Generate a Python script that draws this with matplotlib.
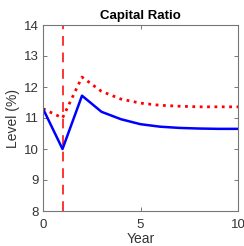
import numpy as np
import matplotlib
matplotlib.use("Agg")
import matplotlib.pyplot as plt

plt.rcParams['font.family'] = ['Liberation Sans', 'DejaVu Sans']

# data
years = [0, 1, 2, 3, 4, 5, 6, 7, 8, 9, 10]
baseline = [11.3, 10.0, 11.72, 11.2, 10.96, 10.8, 10.72, 10.68, 10.66, 10.65, 10.65]
alternative = [11.3, 11.0, 12.32, 11.86, 11.61, 11.48, 11.41, 11.38, 11.36, 11.36, 11.36]
shock_year = 1

fig = plt.figure(figsize=(2.44, 2.46), dpi=100)
ax = fig.add_axes([43 / 244, 1 - 211 / 246, 195 / 244, 186 / 246])

ax.axvline(shock_year, color='#ff3333', linestyle=(0, (5, 3.5)), linewidth=1.4)
ax.plot(years, alternative, color='red', linestyle=':', linewidth=2.0)
ax.plot(years, baseline, color='blue', linewidth=1.8)

ax.set_xlim(0, 10)
ax.set_ylim(8, 14)
ax.set_xticks([0, 5, 10])
ax.set_yticks([8, 9, 10, 11, 12, 13, 14])
ax.tick_params(direction='in', length=3, width=0.7, labelsize=9.5,
               top=True, right=True, color='#777777', labelcolor='#333333', pad=3)
ax.tick_params(axis='x', pad=6)
for s in ax.spines.values():
    s.set_color('#777777')
    s.set_linewidth(0.8)

ax.set_xlabel('Year', fontsize=10, color='#333333', labelpad=0.5)
ax.set_ylabel('Level (%)', fontsize=10, color='#333333', labelpad=3)
ax.set_title('Capital Ratio', fontsize=9.5, fontweight='bold', pad=4)

fig.savefig('out.png', dpi=100)
